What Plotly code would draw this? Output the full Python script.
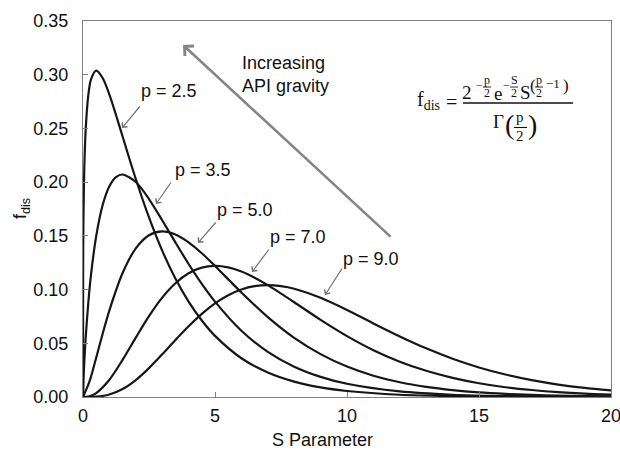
import plotly.graph_objects as go

# ---------------- data ----------------
s_p25 = [0, 0.005, 0.01, 0.02, 0.05, 0.1, 0.2, 0.3, 0.5, 0.75, 1, 1.25, 1.5, 2, 2.5, 3, 3.5, 4, 4.5,
         5, 6, 7, 8, 9, 10, 12, 14, 16, 18, 20]
f_p25 = [0, 0.1230, 0.1460, 0.1727, 0.2139, 0.2481, 0.2807, 0.2955, 0.3038, 0.2967, 0.2814, 0.2625,
         0.2425, 0.2029, 0.1671, 0.1362, 0.1103, 0.0888, 0.0712, 0.0569, 0.0361, 0.0228, 0.0143,
         0.0089, 0.0056, 0.0021, 0.0008, 0.0003, 0.0001, 0.0000]

s_p35 = [0, 0.02, 0.05, 0.1, 0.2, 0.3, 0.5, 0.75, 1, 1.25, 1.5, 2, 2.5, 3, 3.5, 4, 4.5, 5, 6, 7, 8, 9,
         10, 12, 14, 16, 18, 20]
f_p35 = [0, 0.0170, 0.0334, 0.0547, 0.0875, 0.1129, 0.1498, 0.1792, 0.1962, 0.2047, 0.2071, 0.2001,
         0.1843, 0.1645, 0.1439, 0.1238, 0.1053, 0.0888, 0.0617, 0.0420, 0.0282, 0.0187, 0.0123,
         0.0052, 0.0021, 0.0009, 0.0004, 0.0001]

s_p50 = [0, 0.25, 0.5, 0.75, 1, 1.5, 2, 2.5, 3, 3.5, 4, 4.5, 5, 6, 7, 8, 9, 10, 11, 12, 13, 14, 15,
         16, 17, 18, 19, 20]
f_p50 = [0, 0.0147, 0.0366, 0.0594, 0.0807, 0.1154, 0.1384, 0.1506, 0.1542, 0.1513, 0.1440, 0.1338,
         0.1220, 0.0973, 0.0744, 0.0551, 0.0399, 0.0283, 0.0198, 0.0137, 0.0094, 0.0064, 0.0043,
         0.0029, 0.0019, 0.0013, 0.0008, 0.0005]

s_p70 = [0, 0.25, 0.5, 1, 1.5, 2, 2.5, 3, 3.5, 4, 4.5, 5, 5.5, 6, 6.5, 7, 8, 9, 10, 11, 12, 13, 14,
         15, 16, 17, 18, 19, 20]
f_p70 = [0, 0.0007, 0.0037, 0.0161, 0.0346, 0.0553, 0.0753, 0.0925, 0.1059, 0.1152, 0.1204, 0.1220,
         0.1206, 0.1168, 0.1111, 0.1041, 0.0882, 0.0718, 0.0567, 0.0436, 0.0329, 0.0244, 0.0178,
         0.0128, 0.0091, 0.0065, 0.0045, 0.0031, 0.0022]

s_p90 = [0, 0.5, 1, 1.5, 2, 2.5, 3, 3.5, 4, 4.5, 5, 5.5, 6, 6.5, 7, 7.5, 8, 9, 10, 11, 12, 13, 14,
         15, 16, 17, 18, 19, 20]
f_p90 = [0, 0.0003, 0.0023, 0.0074, 0.0158, 0.0269, 0.0397, 0.0530, 0.0658, 0.0774, 0.0872, 0.0948,
         0.1001, 0.1032, 0.1041, 0.1032, 0.1008, 0.0923, 0.0810, 0.0685, 0.0564, 0.0453, 0.0356,
         0.0275, 0.0209, 0.0157, 0.0116, 0.0085, 0.0062]

series = [(s_p25, f_p25), (s_p35, f_p35), (s_p50, f_p50), (s_p70, f_p70), (s_p90, f_p90)]

labels = ["p = 2.5", "p = 3.5", "p = 5.0", "p = 7.0", "p = 9.0"]
x_ticks = [0, 5, 10, 15, 20]
y_ticks = [0.00, 0.05, 0.10, 0.15, 0.20, 0.25, 0.30, 0.35]

# ---------------- layout helpers ----------------
W, H = 620, 453
L, R, T, B = 83, 9, 21, 56
PW, PH = W - L - R, H - T - B
SANS = "Liberation Sans, Arial, sans-serif"
SERIF = "Liberation Serif, Times New Roman, serif"
TXT = "#111111"


def px(x, y):
    return (x - L) / PW, (H - B - y) / PH


def dx(x):
    return (x - L) / PW * 20


def dy(y):
    return (H - B - y) / PH * 0.35


fig = go.Figure()
for s, f in series:
    fig.add_trace(go.Scatter(x=s, y=f, mode="lines",
                             line=dict(color="#161616", width=2.2, shape="spline", smoothing=0.8),
                             showlegend=False, hoverinfo="skip"))

ann = []

# curve labels and their small arrows (pixel positions of text, tail, tip)
label_txt = [(169, 91), (203, 170), (245, 210), (298, 237), (371, 259)]
arrow_tail = [(141, 105), (172, 181), (217, 221), (270, 248), (343, 267)]
arrow_tip = [(122, 128), (156, 204), (198, 243), (252, 272), (325, 295)]
for lab, (tx, ty), (ax, ay), (hx, hy) in zip(labels, label_txt, arrow_tail, arrow_tip):
    x0, y0 = px(tx, ty)
    ann.append(dict(xref="paper", yref="paper", x=x0, y=y0, text=lab, showarrow=False,
                    font=dict(family=SANS, size=18, color=TXT), xanchor="center", yanchor="middle"))
    ann.append(dict(xref="x", yref="y", x=dx(hx), y=dy(hy), text="", showarrow=True,
                    ax=ax - hx, ay=ay - hy, arrowhead=4, arrowsize=1.1, arrowwidth=1.2,
                    arrowcolor="#707070", standoff=0, startstandoff=0))

# big arrow
ann.append(dict(xref="x", yref="y", x=dx(183), y=dy(45), text="", showarrow=True,
                ax=392 - 183, ay=238 - 45, arrowhead=4, arrowsize=1.0, arrowwidth=2.6,
                arrowcolor="#858585", standoff=0, startstandoff=0))
x0, y0 = px(240, 74)
ann.append(dict(xref="paper", yref="paper", x=x0, y=y0, text="Increasing<br>API gravity",
                showarrow=False, align="left", xanchor="left", yanchor="middle",
                font=dict(family=SANS, size=18, color=TXT)))

# axis titles
x0, y0 = px(322, 440)
ann.append(dict(xref="paper", yref="paper", x=x0, y=y0, text="S Parameter", showarrow=False,
                font=dict(family=SANS, size=18, color=TXT), xanchor="center", yanchor="middle"))
x0, y0 = px(21, 209)
ann.append(dict(xref="paper", yref="paper", x=x0, y=y0, text="f<sub>dis</sub>", showarrow=False,
                textangle=-90, font=dict(family=SANS, size=18, color=TXT),
                xanchor="center", yanchor="middle"))


# formula
def ftxt(t, x, y, size, anchor="center"):
    a, b = px(x, y)
    ann.append(dict(xref="paper", yref="paper", x=a, y=b, text=t, showarrow=False,
                    font=dict(family=SERIF, size=size, color=TXT), xanchor=anchor,
                    yanchor="middle", borderpad=0))


shapes = []


def bar(x1, x2, y, w=1.0):
    a1, b1 = px(x1, y)
    a2, _ = px(x2, y)
    shapes.append(dict(type="line", xref="paper", yref="paper", x0=a1, x1=a2, y0=b1, y1=b1,
                       line=dict(color=TXT, width=w)))


ftxt("f<sub>dis</sub>", 441, 101, 20, "right")
ftxt("=", 451, 102, 20)
# numerator
ftxt("2", 467, 92, 19)
ftxt("\u2212", 479, 85, 12)
ftxt("p", 487, 80, 12)
bar(483, 491, 87, 0.9)
ftxt("2", 487, 93, 12)
ftxt("e", 498, 93, 19)
ftxt("\u2212", 506, 85, 12)
ftxt("S", 514, 80, 12)
bar(510, 518, 87, 0.9)
ftxt("2", 514, 93, 12)
ftxt("S", 525, 92, 19)
ftxt("(", 533, 85, 17)
ftxt("p", 539, 80, 12)
bar(535, 543, 87, 0.9)
ftxt("2", 539, 93, 12)
ftxt("\u22121", 553, 84, 13)
ftxt(")", 566, 85, 17)
bar(463, 573, 103, 1.4)
# denominator
ftxt("\u0393", 498, 122, 19)
ftxt("(", 509, 124, 28)
ftxt("p", 520, 117, 15)
bar(514, 527, 127.5, 1.1)
ftxt("2", 520, 136, 15)
ftxt(")", 532, 124, 28)

fig.update_layout(
    width=W, height=H,
    margin=dict(l=L, r=R, t=T, b=B, autoexpand=False),
    paper_bgcolor="white", plot_bgcolor="white",
    annotations=ann, shapes=shapes,
    font=dict(family=SANS, size=18, color=TXT),
    xaxis=dict(range=[0, 20], tickvals=x_ticks, ticktext=[str(v) for v in x_ticks],
               ticks="inside", ticklen=5, tickcolor="#808080", showgrid=False, zeroline=False,
               showline=True, linecolor="#808080", linewidth=1.3, mirror=True,
               tickfont=dict(family=SANS, size=18, color=TXT), ticklabelstandoff=2,
               ticklabeloverflow="allow", automargin=False),
    yaxis=dict(range=[0, 0.35], tickvals=y_ticks, ticktext=[f"{v:.2f}" for v in y_ticks],
               ticks="inside", ticklen=5, tickcolor="#808080", showgrid=False, zeroline=False,
               showline=True, linecolor="#808080", linewidth=1.3, mirror=True,
               tickfont=dict(family=SANS, size=18, color=TXT), ticklabelstandoff=10,
               ticklabeloverflow="allow", automargin=False),
)

fig.write_html("out.html")
